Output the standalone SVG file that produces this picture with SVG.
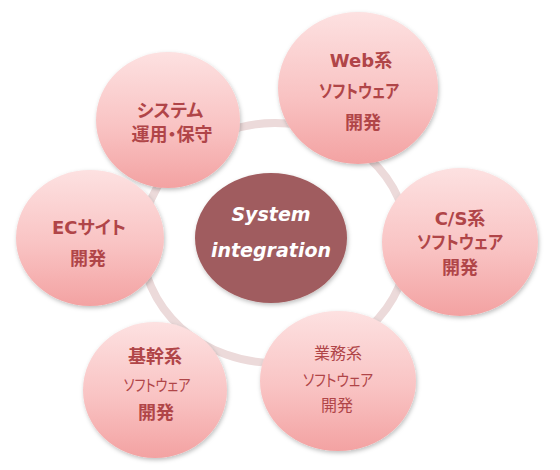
<svg xmlns="http://www.w3.org/2000/svg" width="560" height="470" viewBox="0 0 560 470">
<defs>
<linearGradient id="pink" x1="0" y1="0" x2="0" y2="1">
<stop offset="0" stop-color="#fde1e1"/>
<stop offset="0.55" stop-color="#f9c3c3"/>
<stop offset="1" stop-color="#f3a2a2"/>
</linearGradient>
<filter id="sh" x="-20%" y="-20%" width="140%" height="140%">
<feDropShadow dx="1" dy="2" stdDeviation="2" flood-color="#000" flood-opacity="0.25"/>
</filter>
<style>
.n{fill:url(#pink);filter:url(#sh)}
.t{font-family:"DejaVu Sans","Noto Sans CJK JP",sans-serif;font-feature-settings:"palt";fill:#b04548;text-anchor:middle;dominant-baseline:central}
.b{font-weight:bold;font-size:18px}
.r{font-size:16px}
.c{font-family:"DejaVu Sans",sans-serif;font-weight:bold;font-style:italic;font-size:19px;fill:#fff;text-anchor:middle}
</style>
</defs>
<rect width="560" height="470" fill="#fff"/>
<g id="connectors">
<ellipse cx="275" cy="243" rx="133" ry="120" fill="none" stroke="#ecdada" stroke-width="8"/>
</g>
<g id="center">
<ellipse cx="271" cy="238" rx="76" ry="65" fill="#a05c5e" filter="url(#sh)"/>
<text class="c" x="271" y="221">System</text>
<text class="c" x="271" y="257">integration</text>
</g>
<g id="system-ops">
<ellipse class="n" cx="168" cy="120" rx="72" ry="68"/>
<text class="t b" x="170" y="110">システム</text>
<text class="t b" x="172" y="134">運用・保守</text>
</g>
<g id="web">
<ellipse class="n" cx="358" cy="88" rx="80" ry="76"/>
<text class="t b" x="361" y="60">Web系</text>
<text class="t b" x="359" y="91" textLength="80" lengthAdjust="spacingAndGlyphs">ソフトウェア</text>
<text class="t b" x="363" y="122">開発</text>
</g>
<g id="cs">
<ellipse class="n" cx="460" cy="242" rx="78" ry="74"/>
<text class="t b" x="460" y="218">C/S系</text>
<text class="t b" x="460" y="242" textLength="86" lengthAdjust="spacingAndGlyphs">ソフトウェア</text>
<text class="t b" x="460" y="267">開発</text>
</g>
<g id="gyomu">
<ellipse class="n" cx="338" cy="381" rx="78" ry="70"/>
<text class="t r" x="338" y="353">業務系</text>
<text class="t r" x="338" y="380" textLength="70" lengthAdjust="spacingAndGlyphs">ソフトウェア</text>
<text class="t r" x="337" y="405">開発</text>
</g>
<g id="kikan">
<ellipse class="n" cx="155" cy="390" rx="72" ry="68"/>
<text class="t b" x="155" y="356">基幹系</text>
<text class="t r" x="157" y="385" textLength="67" lengthAdjust="spacingAndGlyphs">ソフトウェア</text>
<text class="t b" x="156" y="412">開発</text>
</g>
<g id="ec">
<ellipse class="n" cx="90" cy="238" rx="74" ry="68"/>
<text class="t b" x="89" y="227">ECサイト</text>
<text class="t b" x="88" y="258">開発</text>
</g>
</svg>
